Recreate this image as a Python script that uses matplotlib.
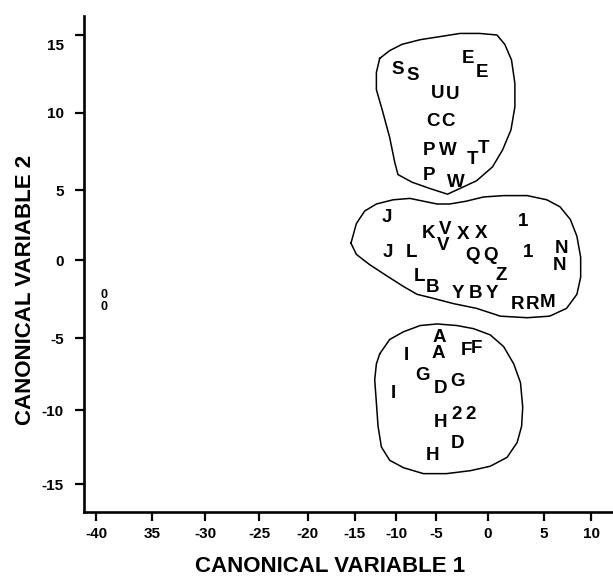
import numpy as np
import matplotlib.pyplot as plt
from matplotlib.transforms import ScaledTranslation

plt.rcParams['font.family'] = ['Liberation Sans', 'DejaVu Sans']

# group codes and their scores on the two canonical variables
labels = ['S', 'S', 'E', 'E', 'U', 'U', 'C', 'C', 'P', 'W', 'T', 'T', 'P', 'W',
          'J', '1', 'K', 'V', 'V', 'X', 'X', 'J', 'L', 'Q', 'Q', '1', 'N', 'N',
          'L', 'B', 'Z', 'Y', 'B', 'Y', 'R', 'R', 'M',
          'A', 'A', 'I', 'F', 'F', 'G', 'D', 'G', 'I', 'H', '2', '2', 'D', 'H']
cv1 = [-9.8, -7.9, -1.9, -0.6, -4.9, -3.4, -5.4, -3.85, -5.9, -3.85, -1.45, -0.4, -5.9, -3.1,
       -11.1, 3.1, -5.9, -4.15, -4.35, -2.4, -0.7, -11.0, -8.05, -1.45, 0.2, 3.55, 6.9, 6.7,
       -7.15, -5.4, 1.15, -2.9, -1.25, 0.35, 2.6, 3.95, 5.4,
       -4.7, -4.8, -8.8, -2.1, -1.15, -6.65, -4.6, -2.9, -10.4, -4.6, -3.0, -1.65, -2.9, -5.4]
cv2 = [12.9, 12.5, 13.65, 12.7, 11.35, 11.3, 9.6, 9.6, 7.7, 7.7, 7.1, 7.85, 6.05, 5.6,
       3.15, 2.9, 2.0, 2.35, 1.2, 1.95, 2.0, 0.7, 0.7, 0.45, 0.45, 0.7, 0.95, -0.25,
       -0.9, -1.65, -0.85, -2.0, -2.05, -2.05, -2.75, -2.75, -2.6,
       -4.85, -5.95, -6.05, -5.7, -5.6, -7.45, -8.35, -7.9, -8.75, -10.7, -10.15, -10.15, -12.15, -12.95]

# outlying group
out_labels = ['0', '0']
out_cv1 = [-39.3, -39.3]
out_cv2 = [-2.15, -2.9]

# hand drawn outlines round the three clusters
top_x = [-12.0, -10.8, -9.3, -7.0, -4.6, -2.7, -0.8, 0.8, 1.5, 2.1, 2.4, 2.4, 2.05, 1.3, 0.4,
         -1.1, -2.7, -3.9, -5.8, -8.0, -9.8, -10.2, -10.8, -11.7, -12.4, -12.4, -12.0]
top_y = [13.5, 14.0, 14.4, 14.7, 14.9, 15.1, 15.1, 15.0, 14.4, 13.4, 11.9, 10.4, 8.9, 7.6, 6.5,
         5.6, 5.1, 4.7, 5.1, 5.5, 6.0, 6.8, 8.4, 10.2, 11.5, 12.6, 13.5]
mid_x = [-15.4, -14.8, -13.8, -12.4, -10.4, -8.3, -6.6, -4.9, -3.7, -2.1, -0.45, 1.4, 3.5, 5.3,
         6.7, 7.8, 8.5, 8.9, 8.9, 8.5, 7.4, 5.6, 3.5, 1.1, -1.1, -3.3, -5.8, -7.4, -9.1, -11.2,
         -13.2, -14.8, -15.4]
mid_y = [1.2, 2.6, 3.5, 4.0, 4.3, 4.4, 4.2, 4.0, 4.0, 4.2, 4.5, 4.6, 4.6, 4.3,
         3.8, 2.9, 1.7, 0.2, -1.1, -2.2, -3.1, -3.6, -3.7, -3.6, -3.1, -2.8, -2.4, -2.2, -1.7, -1.0,
         -0.3, 0.4, 1.2]
bot_x = [-12.0, -10.8, -9.1, -7.0, -4.9, -3.0, -1.4, 0.2, 1.4, 2.3, 2.9, 3.1, 3.0, 2.6, 1.7,
         0.2, -1.7, -4.0, -6.6, -9.1, -10.8, -11.8, -12.2, -12.4, -12.6, -12.4, -12.0]
bot_y = [-6.1, -5.1, -4.6, -4.2, -4.1, -4.2, -4.4, -4.8, -5.6, -6.8, -8.1, -9.8, -11.1, -12.2, -13.2,
         -13.8, -14.1, -14.3, -14.3, -13.9, -13.4, -12.5, -11.1, -9.5, -7.9, -6.8, -6.1]

x_ticks = [-40, -35, -30, -25, -20, -15, -10, -5, 0, 5, 10]
x_ticklabels = ['-40', '35', '-30', '-25', '-20', '-15', '-10', '-5', '0', '5', '10']
y_ticks = [-15, -10, -5, 0, 5, 10, 15]
y_ticklabels = ['-15', '-10', '-5', '0', '5', '10', '15']

# the printed axes are not evenly spaced: pixel place of each tick
x_tick_px = [96.3, 152.2, 205.2, 259.1, 307.9, 354.7, 396.4, 436.1, 488, 544, 591]
y_tick_px = [93, 167, 239, 317, 387, 464, 542]  # from the bottom


def piecewise(vals, pos):
    vals = np.asarray(vals, float)
    pos = np.asarray(pos, float)

    def lin(v, a, b):
        v = np.asarray(v, float)
        out = np.interp(v, a, b)
        out = np.where(v < a[0], b[0] + (v - a[0]) * (b[1] - b[0]) / (a[1] - a[0]), out)
        out = np.where(v > a[-1], b[-1] + (v - a[-1]) * (b[-1] - b[-2]) / (a[-1] - a[-2]), out)
        return out

    return (lambda v: lin(v, vals, pos)), (lambda p: lin(p, pos, vals))


fx, ix = piecewise(x_ticks, x_tick_px)
fy, iy = piecewise(y_ticks, y_tick_px)

W, H = 613, 577
fig = plt.figure(figsize=(W / 100, H / 100), dpi=100)
ax = fig.add_axes([84 / W, (H - 512) / H, (W - 84) / W, (512 - 16) / H])
ax.set_xscale('function', functions=(fx, ix))
ax.set_yscale('function', functions=(fy, iy))
ax.set_xlim(float(ix(84)), float(ix(W)))
ax.set_ylim(float(iy(H - 512)), float(iy(H - 16)))

for xs, ys in [(top_x, top_y), (mid_x, mid_y), (bot_x, bot_y)]:
    ax.plot(xs, ys, color='black', lw=1.1)

for lab, x, y in zip(labels, cv1, cv2):
    ax.text(x, y, lab, ha='center', va='center_baseline', fontsize=13.5, fontweight='bold')
for lab, x, y in zip(out_labels, out_cv1, out_cv2):
    ax.text(x, y, lab, ha='center', va='center_baseline', fontsize=9, fontweight='bold')

ax.set_xticks(x_ticks)
ax.set_xticklabels(x_ticklabels, fontsize=11, fontweight='bold')
ax.set_yticks(y_ticks)
ax.set_yticklabels(y_ticklabels, fontsize=11, fontweight='bold')
ax.minorticks_off()
ax.tick_params(axis='x', direction='out', length=6.5, width=1.6, pad=4)
ax.tick_params(axis='y', direction='out', length=6.5, width=1.6, pad=8)

# the top label sits a little below its tick in the original
lab15 = ax.get_yticklabels()[-1]
lab15.set_transform(lab15.get_transform() + ScaledTranslation(0, -0.09, fig.dpi_scale_trans))

for s in ['top', 'right']:
    ax.spines[s].set_visible(False)
for s in ['left', 'bottom']:
    ax.spines[s].set_linewidth(1.9)

fig.text(330 / W, 1 - 567 / H, 'CANONICAL VARIABLE 1', ha='center', va='center',
         fontsize=16, fontweight='bold')
fig.text(26 / W, 1 - 290 / H, 'CANONICAL VARIABLE 2', ha='center', va='center',
         rotation=90, fontsize=16, fontweight='bold')

fig.savefig('out.png', dpi=100)
